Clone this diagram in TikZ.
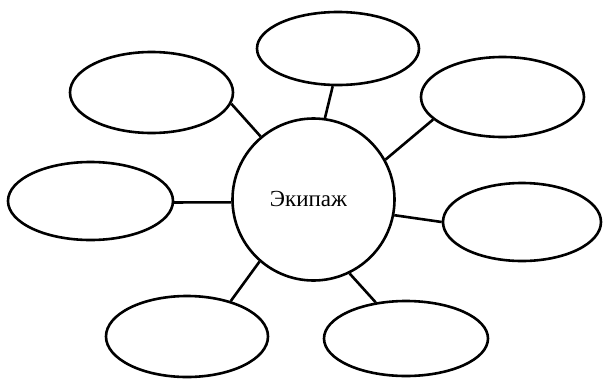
\documentclass[tikz,border=0pt]{standalone}
\usepackage{fontspec}
\setmainfont{Liberation Serif}
\usetikzlibrary{shapes.geometric}
\begin{document}
\begin{tikzpicture}[x=1pt,y=-1pt,
	hub/.style={draw, circle, line width=2.6pt, minimum size=162pt, inner sep=0pt},
	leaf/.style={draw, ellipse, line width=2.6pt, inner sep=0pt},
	spoke/.style={line width=2.6pt}]
	\useasboundingbox (0,0) rectangle (603,378);
	\node [hub] (crew) at (313.5,199.5) {};
	\node [font=\fontsize{23}{28}\selectfont] (crewtext) at (308.5,199) {Экипаж};
	\node [leaf, minimum width=162pt, minimum height=73pt] (top) at (338,48.5) {};
	\node [leaf, minimum width=163pt, minimum height=81pt] (topleft) at (151.5,92.5) {};
	\node [leaf, minimum width=163pt, minimum height=80pt] (topright) at (502.5,97) {};
	\node [leaf, minimum width=165pt, minimum height=78pt] (left) at (90.5,201) {};
	\node [leaf, minimum width=158pt, minimum height=78pt] (right) at (522,222) {};
	\node [leaf, minimum width=162pt, minimum height=81pt] (botleft) at (187,336.5) {};
	\node [leaf, minimum width=164pt, minimum height=75pt] (botright) at (406,338.5) {};
	\draw [spoke] (crew.82.6) -- (top.262);
	\draw [spoke] (crew.130.6) -- (topleft.-8.3);
	\draw [spoke] (crew.29.2) -- (topright.198);
	\draw [spoke] (crew.182.5) -- (left.-1.4);
	\draw [spoke] (crew.-11.4) -- (right.180);
	\draw [spoke] (crew.229.4) -- (botleft.39.5);
	\draw [spoke] (crew.-64.6) -- (botright.130.5);
\end{tikzpicture}
\end{document}
